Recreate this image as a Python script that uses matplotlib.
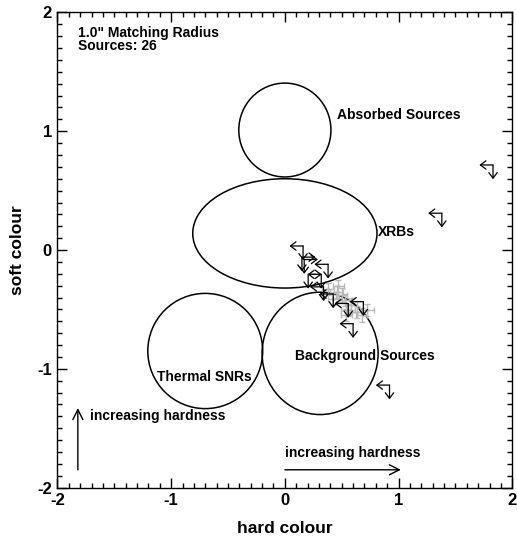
import matplotlib
matplotlib.use("Agg")
import matplotlib.pyplot as plt
from matplotlib.patches import Ellipse
from matplotlib.ticker import MultipleLocator

plt.rcParams['font.family'] = ['Liberation Sans', 'DejaVu Sans']
plt.rcParams['font.weight'] = 'bold'

# Region ellipses: name, centre x, centre y, width, height
region_names = ["Absorbed Sources", "XRBs", "Thermal SNRs", "Background Sources"]
region_cx = [0.0, 0.0, -0.70, 0.31]
region_cy = [1.01, 0.14, -0.85, -0.87]
region_w = [0.81, 1.62, 1.01, 1.02]
region_h = [0.79, 0.92, 0.97, 1.03]
label_x = [0.46, 0.82, -1.12, 0.09]
label_y = [1.14, 0.15, -1.07, -0.89]

# Upper-limit sources: corner position and horizontal arrow direction (-1 left, +1 right)
lim_x = [1.83, 1.38, 0.92, 0.16, 0.15, 0.17, 0.38, 0.32, 0.205, 0.34, 0.425, 0.557, 0.69, 0.60]
lim_y = [0.716, 0.31, -1.137, 0.034, -0.06, -0.08, -0.12, -0.205, -0.205, -0.31, -0.37, -0.45, -0.435, -0.62]
lim_dir = [-1, -1, -1, -1, 1, 1, -1, -1, 1, -1, -1, -1, -1, -1]

# Detected sources (grey, with error bars)
det_x = [0.38, 0.455, 0.50, 0.425, 0.53, 0.585, 0.557, 0.63, 0.675, 0.72, 0.54, 0.47]
det_y = [-0.33, -0.35, -0.38, -0.41, -0.42, -0.46, -0.505, -0.52, -0.55, -0.505, -0.55, -0.30]
det_xerr = [0.05, 0.06, 0.05, 0.05, 0.06, 0.05, 0.06, 0.05, 0.05, 0.06, 0.05, 0.05]
det_yerr = [0.05, 0.05, 0.06, 0.05, 0.05, 0.06, 0.05, 0.05, 0.06, 0.05, 0.05, 0.05]

fig = plt.figure(figsize=(5.17, 5.40), dpi=100)
ax = fig.add_axes([0.111, 0.097, 0.880, 0.880])
ax.set_xlim(-2, 2)
ax.set_ylim(-2, 2)

for n, cx, cy, w, h, lx, ly in zip(region_names, region_cx, region_cy, region_w, region_h, label_x, label_y):
    ax.add_patch(Ellipse((cx, cy), w, h, fill=False, edgecolor='black', lw=1.1))
    ax.text(lx, ly, n, fontsize=10, fontweight='bold', ha='left', va='center')

ax.errorbar(det_x, det_y, xerr=det_xerr, yerr=det_yerr, fmt='+', color='#b8b8b8',
            ecolor='#b8b8b8', elinewidth=1, capsize=2, markersize=3, zorder=2)

small_head = dict(arrowstyle='->, head_length=0.4, head_width=0.3', lw=0.9, color='black',
                  shrinkA=0, shrinkB=0, mutation_scale=10)
dx = 0.12
dy = 0.12
for x, y, d in zip(lim_x, lim_y, lim_dir):
    ax.annotate('', xy=(x + d * dx, y), xytext=(x, y), arrowprops=small_head, zorder=3)
    ax.annotate('', xy=(x, y - dy), xytext=(x, y), arrowprops=small_head, zorder=3)

# hardness direction arrows
big_head = dict(arrowstyle='->, head_length=0.6, head_width=0.3', lw=1.0, color='black',
                shrinkA=0, shrinkB=0, mutation_scale=12)
ax.annotate('', xy=(-1.82, -1.33), xytext=(-1.82, -1.85), arrowprops=big_head)
ax.annotate('', xy=(1.02, -1.85), xytext=(0.0, -1.85), arrowprops=big_head)
ax.text(-1.71, -1.40, "increasing hardness", fontsize=10, fontweight='bold', ha='left', va='center')
ax.text(0.0, -1.705, "increasing hardness", fontsize=10, fontweight='bold', ha='left', va='center')

ax.text(-1.82, 1.83, "1.0\" Matching Radius", fontsize=10, fontweight='bold', ha='left', va='center')
ax.text(-1.82, 1.715, "Sources: 26", fontsize=10, fontweight='bold', ha='left', va='center')

ax.xaxis.set_minor_locator(MultipleLocator(0.1))
ax.yaxis.set_minor_locator(MultipleLocator(0.1))
ax.tick_params(which='both', direction='in', top=True, right=True, width=1)
ax.tick_params(which='major', length=7, labelsize=12, pad=4)
ax.tick_params(which='minor', length=3.5)
ax.set_xticks([-2, -1, 0, 1, 2])
ax.set_xticklabels(['-2', '-1', '0', '1', '2'], fontweight='bold')
ax.set_yticks([-2, -1, 0, 1, 2])
ax.set_yticklabels(['-2', '-1', '0', '1', '2'], fontweight='bold')
ax.set_xlabel("hard colour", fontsize=12.5, fontweight='bold', labelpad=9)
ax.set_ylabel("soft colour", fontsize=12.5, fontweight='bold', labelpad=9)
for s in ax.spines.values():
    s.set_linewidth(1)

fig.savefig("out.png", dpi=100)
